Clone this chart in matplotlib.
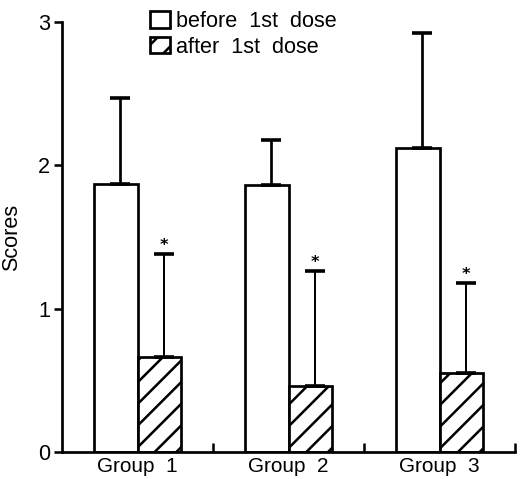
import matplotlib
matplotlib.use("Agg")
import matplotlib.pyplot as plt
import numpy as np

groups = ["Group  1", "Group  2", "Group  3"]
before_mean = [1.87, 1.86, 2.12]
before_err = [0.60, 0.32, 0.80]
after_mean = [0.66, 0.46, 0.55]
after_err = [0.72, 0.80, 0.63]
series_labels = ["before  1st  dose", "after  1st  dose"]
yticks = [0, 1, 2, 3]

DPI = 130
plt.rcParams['font.family'] = ['Liberation Sans', 'DejaVu Sans']
plt.rcParams['hatch.linewidth'] = 1.4

fig = plt.figure(figsize=(532 / DPI, 479 / DPI), dpi=DPI)
ax = fig.add_axes([62 / 532, 1 - 452 / 479, (515 - 62) / 532, (452 - 22) / 479])

x = np.arange(len(groups))
w = 0.29
dx = 0.03
lw = 1.5

b1 = ax.bar(x - w / 2, before_mean, w, color='white', edgecolor='black',
            linewidth=lw, label=series_labels[0], zorder=2)
b2 = ax.bar(x + w / 2, after_mean, w, color='white', edgecolor='black',
            hatch='//', linewidth=lw, label=series_labels[1], zorder=2)

ax.errorbar(x - w / 2 + dx, before_mean,
            yerr=[np.zeros(len(x)), before_err], fmt='none', ecolor='black',
            elinewidth=1.5, capsize=5.3, capthick=2.0, zorder=3)
ax.errorbar(x + w / 2 + dx, after_mean,
            yerr=[np.zeros(len(x)), after_err], fmt='none', ecolor='black',
            elinewidth=1.1, capsize=5.3, capthick=2.0, zorder=3)

for xi, m, e in zip(x, after_mean, after_err):
    ax.annotate('*', (xi + w / 2 + dx, m + e), xytext=(0, 0.5),
                textcoords='offset points', ha='center', va='bottom',
                fontsize=9, fontweight='bold', family='DejaVu Sans')

ax.set_xlim(-0.5, 2.5)
ax.set_ylim(0, 3)
ax.set_yticks(yticks)
ax.set_yticklabels([str(t) for t in yticks], fontsize=12)
ax.set_xticks([0.5, 1.5, 2.5])
ax.set_xticklabels([])
ax.set_xticks(x, minor=True)
ax.set_xticklabels(groups, minor=True, fontsize=11.5)
ax.tick_params(axis='x', which='major', direction='in', length=5, width=1.4)
ax.tick_params(axis='x', which='minor', length=0, pad=3)
ax.tick_params(axis='y', direction='out', length=4.5, width=1.4, pad=2)
ax.set_ylabel('Scores', fontsize=12, labelpad=9)

for s in ['top', 'right']:
    ax.spines[s].set_visible(False)
for s in ['left', 'bottom']:
    ax.spines[s].set_linewidth(1.5)

ax.legend(handles=[b1, b2], loc='upper left',
          bbox_to_anchor=(150 / 532, 1 - 11 / 479), bbox_transform=fig.transFigure,
          frameon=False, fontsize=12, handlelength=0.9, handleheight=0.78,
          handletextpad=0.3, labelspacing=0.22, borderpad=0, borderaxespad=0)

fig.savefig('out.png', dpi=DPI)
